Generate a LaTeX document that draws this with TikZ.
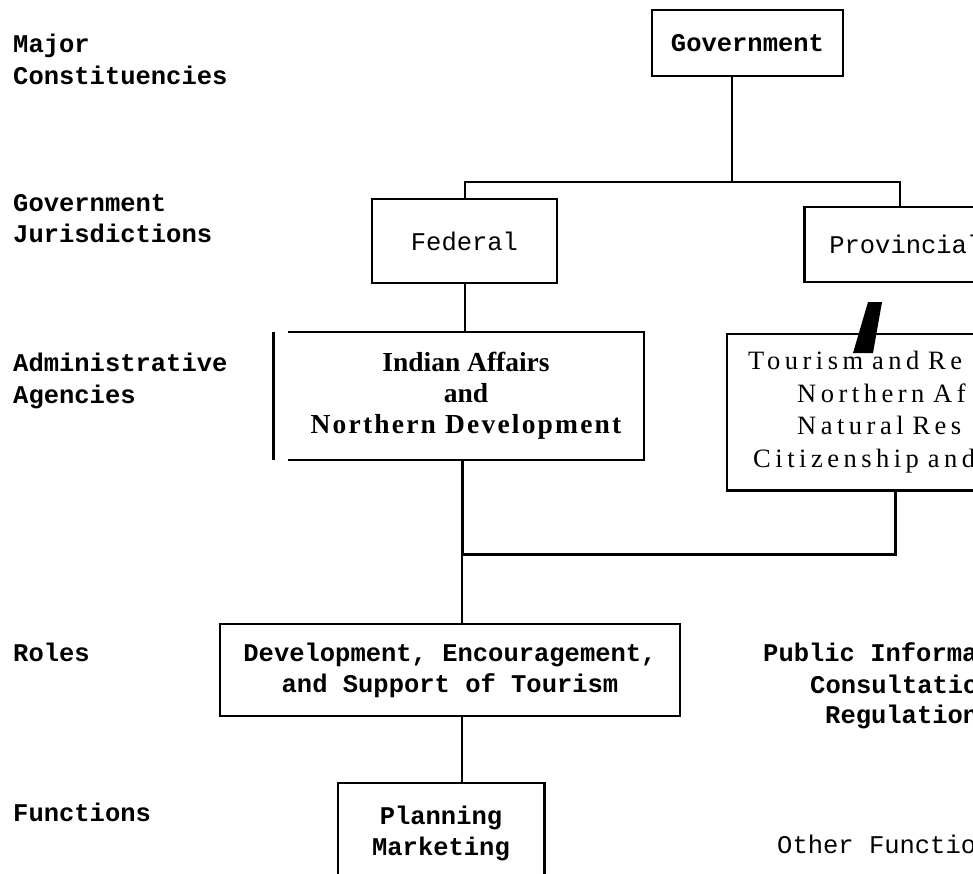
\documentclass[tikz,border=0pt]{standalone}
\usepackage{fontspec}
\setmainfont{Liberation Serif}
\setmonofont{Liberation Mono}
\newfontfamily\spacedserif{Liberation Serif}[LetterSpace=17, WordSpace=2.3]
\tikzset{
  lbl/.style={font=\ttfamily\bfseries\fontsize{25.5}{31}\selectfont, anchor=base west, inner sep=0pt},
  lblreg/.style={font=\ttfamily\fontsize{25.5}{31}\selectfont, anchor=base west, inner sep=0pt},
  monob/.style={font=\ttfamily\bfseries\fontsize{25.5}{31}\selectfont},
  monor/.style={font=\ttfamily\fontsize{25.5}{31}\selectfont},
  boxline/.style={line width=2.6pt},
  thinbox/.style={line width=1.8pt},
  conn/.style={line width=2pt},
  heavyconn/.style={line width=3pt},
}
\begin{document}
\begin{tikzpicture}[x=1pt,y=-1pt]
\useasboundingbox (0,0) rectangle (973,874);
\fill[white] (0,0) rectangle (973,874);
\clip (0,0) rectangle (973,874);

% row labels
\node[lbl] (l1) at (13,53) {Major};
\node[lbl] (l2) at (13,85) {Constituencies};
\node[lbl] (l3) at (13,212) {Government};
\node[lbl] (l4) at (13,243) {Jurisdictions};
\node[lbl] (l5) at (13,371) {Administrative};
\node[lbl] (l6) at (13,403) {Agencies};
\node[lbl] (l7) at (13,661) {Roles};
\node[lbl] (l8) at (13,821) {Functions};

% boxes
\node[draw, thinbox, monob, minimum width=191pt, minimum height=66pt, inner sep=0pt] (gov) at (747.5,43) {Government};

\node[draw, boxline, monor, minimum width=185pt, minimum height=84pt, inner sep=0pt] (fed) at (464.5,241) {Federal};

\node[draw, boxline, monor, anchor=west, minimum height=75pt, inner xsep=25pt, inner ysep=0pt,
      text width=200pt, align=left] (prov) at (803,244.5) {Provincial};

\node[font=\bfseries\fontsize{27.5}{31}\selectfont, align=center, minimum width=356pt,
      minimum height=128pt, inner sep=0pt] (ind) at (466,396)
      {Indian Affairs\\and\\{\addfontfeatures{LetterSpace=8}Northern Development}};
\draw[thinbox] (ind.north west) -- (ind.north east) -- (ind.south east) -- (ind.south west);
\draw[heavyconn] ([xshift=-14pt]ind.north west) -- ([xshift=-14pt]ind.south west);

\node[anchor=north west, font=\spacedserif\fontsize{26.5}{32.7}\selectfont, align=left,
      text width=300pt, inner xsep=21pt, inner ysep=17pt] (tour) at (727,334)
      {Tourism and Re\\\hspace*{49pt}Northern Af\\\hspace*{49pt}Natural Res\\\hspace*{5pt}Citizenship and};
\draw[boxline] (tour.north east) -- (tour.north west) -- (tour.south west) -- (tour.south east);
\fill (868,302) -- (882,302) -- (873,353) -- (853,353) -- cycle;

\node[draw, boxline, monob, align=center, minimum width=460pt, minimum height=92pt, inner sep=0pt]
      (dev) at (450,670) {Development, Encouragement,\\and Support of Tourism};

\node[monob, align=center, anchor=north, minimum width=206pt, inner xsep=0pt, inner ysep=23pt]
      (plan) at (441,783) {Planning\\Marketing};
\draw[boxline] ([yshift=-30pt]plan.south west) -- (plan.north west) -- (plan.north east) -- ([yshift=-30pt]plan.south east);

% right-hand texts
\node[lbl] (pub) at (763,661) {Public Informa};
\node[lbl] (cons) at (810,693) {Consultatio};
\node[lbl] (reg) at (825,723) {Regulation};
\node[lblreg] (oth) at (777,853) {Other Functio};

% connectors
\coordinate (jtop) at (732,182);
\draw[conn] ([xshift=-15.5pt]gov.south) -- (jtop);
\draw[conn] (fed.north) |- (jtop);
\draw[conn] (jtop) -| ([xshift=97pt]prov.north west);
\draw[conn] (fed.south) -- (fed.south |- ind.north);

\coordinate (jmid) at (462,554);
\draw[heavyconn] (jmid |- ind.south) -- (jmid) -| ([xshift=168pt]tour.south west);
\draw[conn] (jmid) -- (jmid |- dev.north);
\draw[conn] (jmid |- dev.south) -- (jmid |- plan.north);
\end{tikzpicture}
\end{document}
